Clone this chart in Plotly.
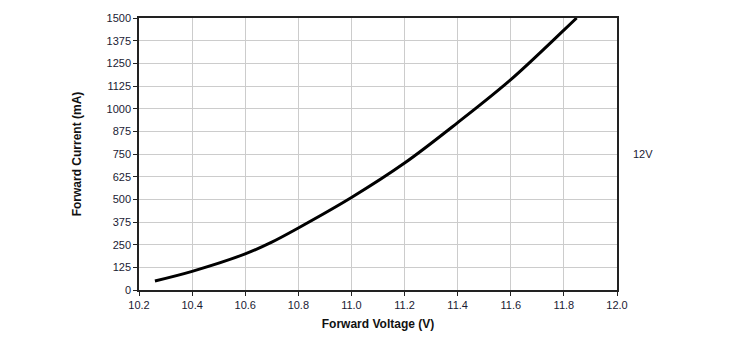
import plotly.graph_objects as go

voltage = [10.26, 10.4, 10.6, 10.7, 10.8, 11.0, 11.2, 11.4, 11.6, 11.8, 11.848]
current = [50, 103, 199, 264, 342, 510, 700, 923, 1160, 1433, 1500]
series_name = "12V"

x_ticks = [10.2 + 0.2 * i for i in range(10)]
y_ticks = [125 * i for i in range(13)]

fig = go.Figure()
fig.add_trace(go.Scatter(
    x=voltage, y=current, mode="lines", name=series_name,
    line=dict(color="black", width=3, shape="spline", smoothing=1.0),
    showlegend=False,
))

axis_common = dict(
    showline=True, linecolor="#222", linewidth=1.5, mirror=True,
    showgrid=True, gridcolor="#cccccc", gridwidth=1,
    ticks="outside", ticklen=4, tickcolor="#222",
    tickfont=dict(family="Liberation Sans, Arial", size=11, color="#1a1a33"),
    zeroline=False,
)

fig.update_layout(
    width=750, height=343,
    margin=dict(l=139, r=133, t=18, b=53),
    plot_bgcolor="white", paper_bgcolor="white",
    xaxis=dict(range=[10.2, 12.0], tickvals=x_ticks,
               ticktext=[f"{v:.1f}" for v in x_ticks],
               title=dict(text="<b>Forward Voltage (V)</b>",
                          font=dict(family="Liberation Sans, Arial", size=12, color="#111"),
                          standoff=10),
               **axis_common),
    yaxis=dict(range=[0, 1500], tickvals=y_ticks,
               title=dict(text="<b>Forward Current (mA)</b>",
                          font=dict(family="Liberation Sans, Arial", size=12, color="#111"),
                          standoff=22),
               **axis_common),
    annotations=[dict(text=series_name, xref="paper", yref="paper",
                      x=1.03, y=0.5, xanchor="left", yanchor="middle",
                      showarrow=False,
                      font=dict(family="Liberation Sans, Arial", size=11, color="#1a1a33"))],
)

fig.write_html("out.html")
